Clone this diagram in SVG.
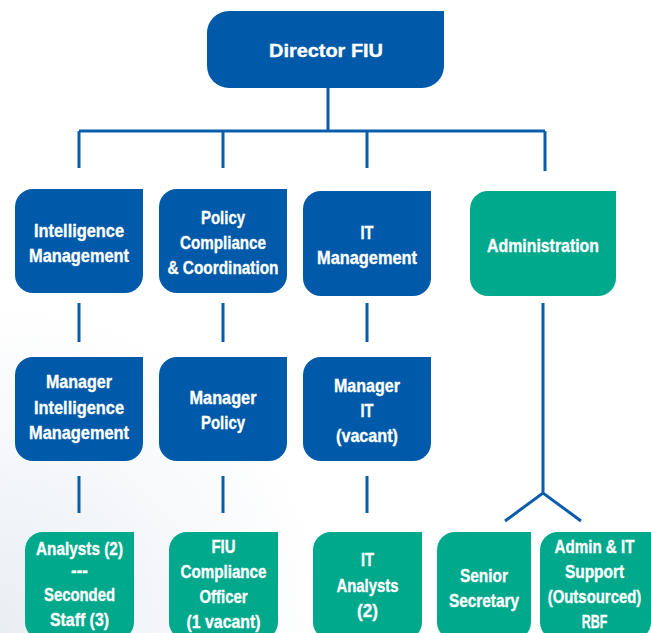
<svg xmlns="http://www.w3.org/2000/svg" width="651" height="633" viewBox="0 0 651 633">
<defs>
<radialGradient id="bg" cx="0" cy="633" r="330" gradientUnits="userSpaceOnUse">
<stop offset="0" stop-color="#e9eef4"/>
<stop offset="1" stop-color="#ffffff"/>
</radialGradient>
</defs>
<style>
.blue{fill:#005aa9}
.green{fill:#00a88c}
.t{font-family:"Liberation Sans",Arial,sans-serif;font-weight:bold;font-size:19px;fill:#ffffff;stroke:#ffffff;stroke-width:0.35;text-anchor:middle}
.c{fill:none;stroke:#0b5dab;stroke-width:3}
</style>
<rect width="651" height="633" fill="url(#bg)"/>
<g id="connectors" class="c">
<path d="M328,88 V131 M79,131 H545 M79,131 V168 M223,131 V168 M367,131 V168 M545,131 V171"/>
<path d="M79,303 V342 M223,303 V342 M367,303 V342"/>
<path d="M543,303 V493 M505,521 L543,493 L581,521"/>
<path d="M79,476 V513 M223,476 V513 M367,476 V513"/>
</g>
<g id="director">
<path class="blue" d="M229,11 H444 V66 A22,22 0 0 1 422,88 H229 A22,22 0 0 1 207,66 V33 A22,22 0 0 1 229,11 Z"/>
<text class="t" x="326" y="57" textLength="114" lengthAdjust="spacingAndGlyphs">Director FIU</text>
</g>
<g id="intelligence">
<path class="blue" d="M33,189 H143 V275 A18,18 0 0 1 125,293 H33 A18,18 0 0 1 15,275 V207 A18,18 0 0 1 33,189 Z"/>
<text class="t" x="79" y="237" textLength="90" lengthAdjust="spacingAndGlyphs">Intelligence</text>
<text class="t" x="79" y="262" textLength="100" lengthAdjust="spacingAndGlyphs">Management</text>
</g>
<g id="policy">
<path class="blue" d="M177,189 H287 V275 A18,18 0 0 1 269,293 H177 A18,18 0 0 1 159,275 V207 A18,18 0 0 1 177,189 Z"/>
<text class="t" x="223" y="224" textLength="44" lengthAdjust="spacingAndGlyphs">Policy</text>
<text class="t" x="223" y="249" textLength="86" lengthAdjust="spacingAndGlyphs">Compliance</text>
<text class="t" x="223" y="274" textLength="111" lengthAdjust="spacingAndGlyphs">&amp; Coordination</text>
</g>
<g id="it-management">
<path class="blue" d="M321,191 H431 V278 A18,18 0 0 1 413,296 H321 A18,18 0 0 1 303,278 V209 A18,18 0 0 1 321,191 Z"/>
<text class="t" x="367" y="239" textLength="13" lengthAdjust="spacingAndGlyphs">IT</text>
<text class="t" x="367" y="264" textLength="100" lengthAdjust="spacingAndGlyphs">Management</text>
</g>
<g id="administration">
<path class="green" d="M488,191 H616 V278 A18,18 0 0 1 598,296 H488 A18,18 0 0 1 470,278 V209 A18,18 0 0 1 488,191 Z"/>
<text class="t" x="543" y="252" textLength="112" lengthAdjust="spacingAndGlyphs">Administration</text>
</g>
<g id="manager-intelligence">
<path class="blue" d="M33,357 H143 V443 A18,18 0 0 1 125,461 H33 A18,18 0 0 1 15,443 V375 A18,18 0 0 1 33,357 Z"/>
<text class="t" x="79" y="388" textLength="66" lengthAdjust="spacingAndGlyphs">Manager</text>
<text class="t" x="79" y="414" textLength="90" lengthAdjust="spacingAndGlyphs">Intelligence</text>
<text class="t" x="79" y="439" textLength="100" lengthAdjust="spacingAndGlyphs">Management</text>
</g>
<g id="manager-policy">
<path class="blue" d="M177,357 H287 V443 A18,18 0 0 1 269,461 H177 A18,18 0 0 1 159,443 V375 A18,18 0 0 1 177,357 Z"/>
<text class="t" x="223" y="404" textLength="67" lengthAdjust="spacingAndGlyphs">Manager</text>
<text class="t" x="223" y="429" textLength="44" lengthAdjust="spacingAndGlyphs">Policy</text>
</g>
<g id="manager-it">
<path class="blue" d="M321,357 H431 V443 A18,18 0 0 1 413,461 H321 A18,18 0 0 1 303,443 V375 A18,18 0 0 1 321,357 Z"/>
<text class="t" x="367" y="392" textLength="66" lengthAdjust="spacingAndGlyphs">Manager</text>
<text class="t" x="367" y="417" textLength="13" lengthAdjust="spacingAndGlyphs">IT</text>
<text class="t" x="367" y="442" textLength="62" lengthAdjust="spacingAndGlyphs">(vacant)</text>
</g>
<g id="analysts">
<path class="green" d="M43,532 H134 V622 A18,18 0 0 1 116,640 H43 A18,18 0 0 1 25,622 V550 A18,18 0 0 1 43,532 Z"/>
<text class="t" x="79.5" y="555" textLength="87" lengthAdjust="spacingAndGlyphs">Analysts (2)</text>
<text class="t" x="79.5" y="577" textLength="17" lengthAdjust="spacingAndGlyphs">---</text>
<text class="t" x="79.5" y="601" textLength="71" lengthAdjust="spacingAndGlyphs">Seconded</text>
<text class="t" x="79.5" y="626" textLength="59" lengthAdjust="spacingAndGlyphs">Staff (3)</text>
</g>
<g id="compliance-officer">
<path class="green" d="M187,532 H278 V622 A18,18 0 0 1 260,640 H187 A18,18 0 0 1 169,622 V550 A18,18 0 0 1 187,532 Z"/>
<text class="t" x="223.5" y="553" textLength="24" lengthAdjust="spacingAndGlyphs">FIU</text>
<text class="t" x="223.5" y="578" textLength="86" lengthAdjust="spacingAndGlyphs">Compliance</text>
<text class="t" x="223.5" y="603" textLength="48" lengthAdjust="spacingAndGlyphs">Officer</text>
<text class="t" x="223.5" y="628" textLength="74" lengthAdjust="spacingAndGlyphs">(1 vacant)</text>
</g>
<g id="it-analysts">
<path class="green" d="M331,532 H422 V622 A18,18 0 0 1 404,640 H331 A18,18 0 0 1 313,622 V550 A18,18 0 0 1 331,532 Z"/>
<text class="t" x="367.5" y="566" textLength="13" lengthAdjust="spacingAndGlyphs">IT</text>
<text class="t" x="367.5" y="592" textLength="62" lengthAdjust="spacingAndGlyphs">Analysts</text>
<text class="t" x="367.5" y="617" textLength="21" lengthAdjust="spacingAndGlyphs">(2)</text>
</g>
<g id="senior-secretary">
<path class="green" d="M455,532 H531 V622 A18,18 0 0 1 513,640 H455 A18,18 0 0 1 437,622 V550 A18,18 0 0 1 455,532 Z"/>
<text class="t" x="484" y="582" textLength="48" lengthAdjust="spacingAndGlyphs">Senior</text>
<text class="t" x="484" y="607" textLength="70" lengthAdjust="spacingAndGlyphs">Secretary</text>
</g>
<g id="admin-it-support">
<path class="green" d="M558,532 H651 V622 A18,18 0 0 1 633,640 H558 A18,18 0 0 1 540,622 V550 A18,18 0 0 1 558,532 Z"/>
<g transform="translate(594.5,0) scale(0.8,1)">
<text class="t" x="0" y="553" textLength="100" lengthAdjust="spacingAndGlyphs">Admin &amp; IT</text>
<text class="t" x="0" y="578" textLength="74" lengthAdjust="spacingAndGlyphs">Support</text>
<text class="t" x="0" y="603" textLength="117" lengthAdjust="spacingAndGlyphs">(Outsourced)</text>
<text class="t" x="0" y="628" textLength="32" lengthAdjust="spacingAndGlyphs">RBF</text>
</g>
</g>
</svg>
